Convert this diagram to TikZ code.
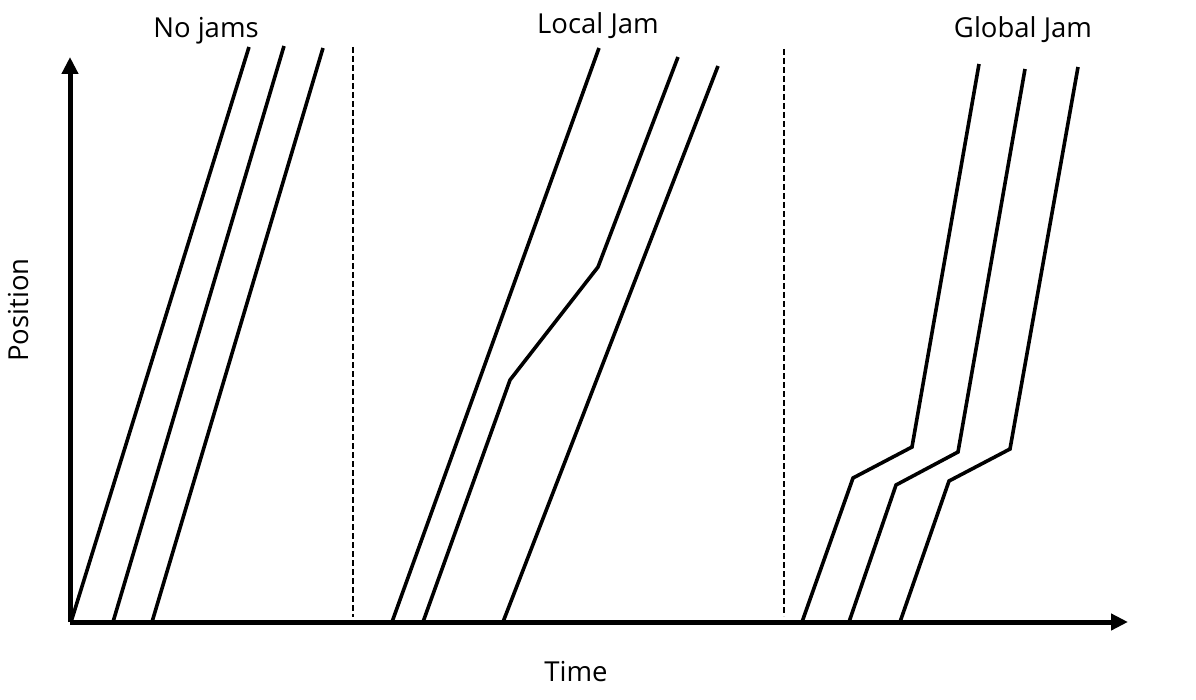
\documentclass[tikz,border=0pt]{standalone}
\usepackage{fontspec}
\setmainfont{Open Sans}
\usetikzlibrary{arrows.meta}
\begin{document}
\begin{tikzpicture}[x=1pt,y=-1pt,
  axis/.style={line width=5pt,-{Triangle[length=17pt,width=16pt]}},
  traj/.style={line width=3.6pt,line join=miter},
  divider/.style={line width=2pt,dash pattern=on 6pt off 3pt},
  lbl/.style={font=\fontsize{27.5}{32}\selectfont,anchor=base,inner sep=0pt}]
\useasboundingbox (0,0) rectangle (1196,700);
% axes
\coordinate (O) at (70,622);
\coordinate (Ytip) at (70,57);
\coordinate (Xtip) at (1128,622);
\draw[axis] (O) -- (Ytip);
\draw[axis] (O) -- (Xtip);
% dividers
\coordinate (d1a) at (353,47); \coordinate (d1b) at (353,617);
\coordinate (d2a) at (784,49); \coordinate (d2b) at (784,616);
\draw[divider] (d1a) -- (d1b);
\draw[divider] (d2a) -- (d2b);
% no jams
\coordinate (a1s) at (71,622);  \coordinate (a1e) at (249,47);
\coordinate (a2s) at (113,622); \coordinate (a2e) at (284,46);
\coordinate (a3s) at (152,622); \coordinate (a3e) at (323,48);
\draw[traj] (a1s) -- (a1e);
\draw[traj] (a2s) -- (a2e);
\draw[traj] (a3s) -- (a3e);
% local jam
\coordinate (b1s) at (392,622); \coordinate (b1e) at (599,48);
\coordinate (b2s) at (423,622); \coordinate (b2k1) at (510,380); \coordinate (b2k2) at (598,267); \coordinate (b2e) at (678,57);
\coordinate (b3s) at (503,622); \coordinate (b3e) at (718,66);
\draw[traj] (b1s) -- (b1e);
\draw[traj] (b2s) -- (b2k1) -- (b2k2) -- (b2e);
\draw[traj] (b3s) -- (b3e);
% global jam
\coordinate (c1s) at (802,622); \coordinate (c1k1) at (853,478); \coordinate (c1k2) at (912,447); \coordinate (c1e) at (979,64);
\coordinate (c2s) at (849,622); \coordinate (c2k1) at (896,485); \coordinate (c2k2) at (958,452); \coordinate (c2e) at (1025,69);
\coordinate (c3s) at (900,622); \coordinate (c3k1) at (949,481); \coordinate (c3k2) at (1010,449); \coordinate (c3e) at (1078,67);
\draw[traj] (c1s) -- (c1k1) -- (c1k2) -- (c1e);
\draw[traj] (c2s) -- (c2k1) -- (c2k2) -- (c2e);
\draw[traj] (c3s) -- (c3k1) -- (c3k2) -- (c3e);
% labels
\node[lbl] (t1) at (206,38) {No jams};
\node[lbl] (t2) at (598,34) {Local Jam};
\node[lbl] (t3) at (1023,38) {Global Jam};
\node[lbl] (tx) at (576,681) {Time};
\node[lbl,rotate=90] (ty) at (28,310) {Position};
\end{tikzpicture}
\end{document}
